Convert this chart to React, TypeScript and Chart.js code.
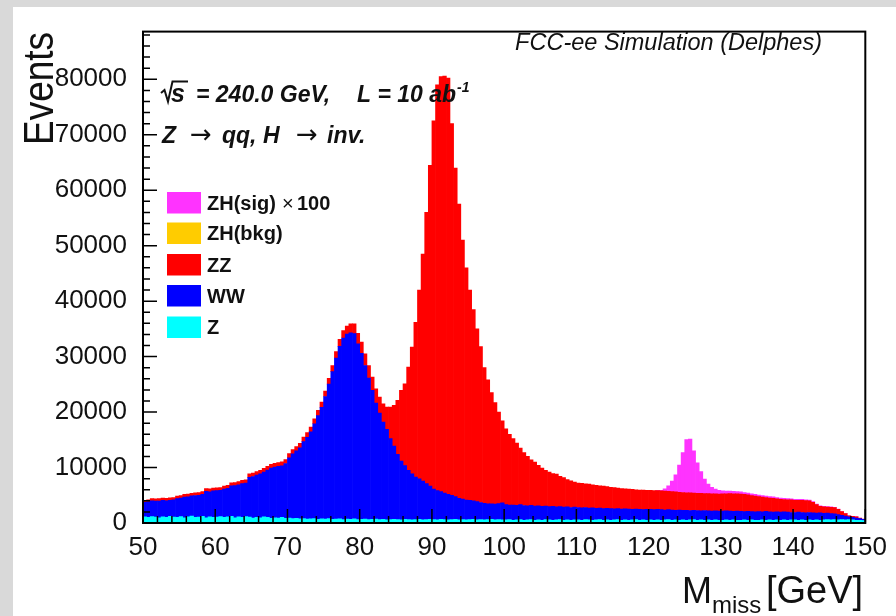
import React, { useEffect, useRef } from "react";
import { Chart, registerables } from "chart.js";

Chart.register(...registerables);

// ---- axis definition ----
const X_MIN = 50;
const X_MAX = 150;
const BIN_WIDTH = 0.5;
const Y_MIN = 0;
const Y_MAX = 88600;
const X_TICKS = [50, 60, 70, 80, 90, 100, 110, 120, 130, 140, 150];
const Y_TICKS = [0, 10000, 20000, 30000, 40000, 50000, 60000, 70000, 80000];
const X_MAJOR_STEP = 10;
const X_MINOR_STEP = 2;
const Y_MAJOR_STEP = 10000;
const Y_MINOR_STEP = 2000;

// ---- series (0.5 GeV bins from 50 to 150 GeV) ----
const Z_BOSON = [
  1100, 1000, 1150, 1050, 950, 1100, 1000, 1200, 1050, 1000, 1150, 950, 1100, 1250, 1000, 1050, 1200, 950, 1100, 1000,
  1050, 1150, 1000, 1100, 1200, 950, 1100, 1000, 1150, 1050, 900, 1000, 950, 1100, 1000, 850, 950, 900, 1000, 850,
  900, 800, 850, 750, 800, 700, 750, 800, 650, 750, 700, 800, 650, 700, 750, 600, 700, 650, 750, 600,
  650, 700, 600, 650, 700, 600, 650, 550, 600, 650, 600, 550, 650, 600, 550, 600, 650, 550, 600, 650,
  600, 550, 650, 600, 550, 600, 650, 550, 600, 550, 600, 650, 550, 600, 550, 600, 650, 550, 600, 550,
  550, 600, 500, 550, 600, 500, 550, 600, 500, 550, 500, 600, 550, 500, 550, 600, 500, 550, 500, 550,
  550, 500, 600, 550, 500, 550, 600, 500, 550, 500, 550, 600, 500, 550, 500, 550, 600, 500, 550, 500,
  550, 500, 550, 500, 550, 600, 500, 550, 500, 550, 500, 550, 600, 500, 550, 500, 550, 500, 550, 500,
  500, 550, 500, 550, 500, 500, 550, 500, 550, 500, 500, 550, 500, 550, 500, 550, 500, 550, 500, 550,
  550, 500, 550, 500, 550, 500, 550, 500, 550, 600, 550, 600, 550, 600, 550, 600, 550, 500, 500, 450,
];

const WW = [
  2620, 2800, 2830, 2890, 3020, 2980, 3010, 2900, 3120, 3390, 3350, 3730, 3620, 3630, 3960, 3950, 3960, 4740, 4530, 4790,
  4780, 4720, 5110, 5150, 5490, 5790, 5770, 6110, 6050, 7190, 7480, 7620, 7910, 8100, 8540, 9070, 9110, 9300, 9330, 9870,
  10860, 11690, 12170, 12800, 13880, 14750, 15670, 17100, 18720, 20090, 22100, 24250, 26650, 29050, 31100, 32750, 33350, 33650, 33400, 31700,
  29950, 27700, 25550, 23250, 20900, 19200, 17550, 16350, 14600, 13200, 11800, 10600, 9700, 8900, 8300, 7700, 7300, 7000, 6500, 6000,
  5500, 5300, 5000, 4800, 4600, 4400, 4100, 3900, 3700, 3600, 3500, 3350, 3300, 3100, 3000, 2850, 2800, 2850, 2900, 3100,
  2750, 2650, 2750, 2650, 2700, 2650, 2550, 2600, 2550, 2550, 2500, 2450, 2400, 2500, 2350, 2350, 2350, 2350, 2300, 2300,
  2250, 2250, 2200, 2150, 2250, 2100, 2100, 2100, 2100, 2100, 2000, 2000, 2000, 2000, 2000, 1900, 1900, 1950, 1850, 1950,
  1900, 1900, 1900, 1900, 1800, 1800, 1850, 1750, 1850, 1750, 1800, 1700, 1700, 1750, 1650, 1750, 1650, 1650, 1650, 1650,
  1650, 1650, 1650, 1550, 1650, 1600, 1500, 1600, 1500, 1500, 1550, 1450, 1600, 1450, 1450, 1450, 1450, 1450, 1450, 1350,
  1350, 1450, 1350, 1350, 1350, 1350, 1250, 1350, 1200, 1200, 1150, 1050, 950, 800, 700, 500, 450, 400, 300, 200,
];

const ZZ = [
  380, 400, 420, 410, 430, 420, 440, 450, 430, 460, 450, 470, 480, 470, 490, 500, 490, 510, 520, 510,
  520, 530, 540, 550, 560, 560, 580, 590, 600, 610, 620, 630, 640, 650, 660, 680, 690, 700, 720, 730,
  740, 760, 780, 800, 820, 850, 880, 900, 930, 960, 1000, 1050, 1100, 1150, 1250, 1350, 1450, 1600, 1750, 1900,
  2000, 2100, 2250, 2400, 2600, 2900, 3300, 4000, 5700, 7350, 9700, 12750, 14750, 18600, 22850, 27900, 34050, 40950, 48900, 57850,
  66400, 73150, 74850, 75200, 75050, 67000, 59250, 53050, 46700, 41850, 37900, 34500, 31150, 28100, 24450, 22350, 20050, 18300, 16500, 14750,
  13700, 12750, 11950, 11200, 10200, 9550, 8900, 8200, 7950, 7300, 6900, 6450, 6250, 5900, 5900, 5450, 5350, 4950, 4800, 4550,
  4400, 4400, 4250, 4300, 4150, 4150, 4000, 4050, 3900, 3850, 3850, 3700, 3700, 3600, 3600, 3600, 3500, 3500, 3550, 3450,
  3450, 3450, 3400, 3400, 3400, 3300, 3300, 3300, 3200, 3200, 3150, 3200, 3100, 3100, 3150, 3050, 3100, 3100, 3050, 3050,
  3100, 3050, 3150, 3180, 3100, 3120, 3100, 2970, 2880, 2850, 2710, 2670, 2490, 2500, 2510, 2370, 2330, 2240, 2250, 2260,
  2180, 2140, 2200, 2200, 2100, 1870, 1520, 1160, 1170, 1070, 1140, 1120, 960, 670, 470, 180, 190, 230, 100, 70,
];

const ZH_BKG = [
  0, 0, 0, 0, 0, 0, 0, 0, 0, 0, 0, 0, 0, 0, 0, 0, 0, 0, 0, 0,
  0, 0, 0, 0, 0, 0, 0, 0, 0, 0, 0, 0, 0, 0, 0, 0, 0, 0, 0, 0,
  0, 0, 0, 0, 0, 0, 0, 0, 0, 0, 0, 0, 0, 0, 0, 0, 0, 0, 0, 0,
  0, 0, 0, 0, 0, 0, 0, 0, 0, 0, 0, 0, 0, 0, 0, 0, 0, 0, 0, 0,
  0, 0, 0, 0, 0, 0, 0, 0, 0, 0, 0, 0, 0, 0, 0, 0, 0, 0, 0, 0,
  0, 0, 0, 0, 0, 0, 0, 0, 0, 0, 0, 0, 0, 0, 0, 0, 0, 0, 0, 0,
  0, 0, 0, 0, 0, 0, 0, 0, 0, 0, 0, 0, 0, 0, 0, 0, 0, 0, 0, 0,
  0, 0, 0, 0, 0, 0, 0, 0, 0, 0, 0, 0, 0, 0, 0, 0, 0, 0, 0, 0,
  0, 0, 0, 0, 0, 0, 0, 0, 0, 0, 0, 0, 0, 0, 0, 0, 0, 0, 0, 0,
  0, 0, 0, 0, 0, 0, 0, 0, 0, 0, 0, 0, 0, 0, 0, 0, 0, 0, 0, 0,
];

const ZH_SIG_X100 = [
  0, 0, 0, 0, 0, 0, 0, 0, 0, 0, 0, 0, 0, 0, 0, 0, 0, 0, 0, 0,
  0, 0, 0, 0, 0, 0, 0, 0, 0, 0, 0, 0, 0, 0, 0, 0, 0, 0, 0, 0,
  0, 0, 0, 0, 0, 0, 0, 0, 0, 0, 0, 0, 0, 0, 0, 0, 0, 0, 0, 0,
  0, 0, 0, 0, 0, 0, 0, 0, 0, 0, 0, 0, 0, 0, 0, 0, 0, 0, 0, 0,
  0, 0, 0, 0, 0, 0, 0, 0, 0, 0, 0, 0, 0, 0, 0, 0, 0, 0, 0, 0,
  0, 0, 0, 0, 0, 0, 0, 0, 0, 0, 0, 0, 0, 0, 0, 0, 0, 0, 0, 0,
  0, 0, 0, 0, 0, 0, 0, 0, 0, 0, 0, 0, 0, 0, 0, 0, 0, 0, 0, 0,
  0, 0, 50, 100, 400, 1000, 1900, 3100, 4900, 7200, 9600, 9700, 7600, 5500, 3900, 2600, 1700, 1200, 850, 700,
  550, 500, 450, 420, 400, 380, 350, 330, 320, 300, 290, 280, 260, 250, 240, 230, 220, 210, 200, 190,
  180, 170, 160, 150, 140, 120, 100, 90, 80, 70, 60, 50, 40, 30, 20, 20, 10, 10, 0, 0,
];

// stacking order bottom -> top
const SERIES_VALUES = [Z_BOSON, WW, ZZ, ZH_BKG, ZH_SIG_X100];
const SERIES_LABELS = ["Z", "WW", "ZZ", "ZH(bkg)", "ZH(sig)"];
const SERIES_COLORS = ["#00ffff", "#0000ff", "#ff0000", "#ffcc00", "#ff33ff"];
// legend order top -> bottom (index into series) and text
const LEGEND_ORDER = [4, 3, 2, 1, 0];
const LEGEND_TEXT = ["ZH(sig)|× 100", "ZH(bkg)", "ZZ", "WW", "Z"];

const SANS = "'Liberation Sans', Arial, Helvetica, sans-serif";

const decorPlugin = {
  id: "rootDecor",
  beforeDraw(chart: any) {
    const ctx = chart.ctx;
    ctx.save();
    ctx.fillStyle = "#d9d9d9";
    ctx.fillRect(0, 0, chart.width, chart.height);
    ctx.fillStyle = "#ffffff";
    ctx.fillRect(13, 7, chart.width - 13, chart.height - 7);
    ctx.restore();
  },
  afterDraw(chart: any) {
    const ctx = chart.ctx;
    const xs = chart.scales.x;
    const ys = chart.scales.y;
    const { left, right, top, bottom } = chart.chartArea;
    ctx.save();
    // ticks (inside the frame)
    ctx.strokeStyle = "#000";
    ctx.lineWidth = 1.5;
    ctx.beginPath();
    for (let v = X_MIN; v <= X_MAX + 1e-9; v += X_MINOR_STEP) {
      const px = xs.getPixelForValue(v);
      const major = Math.abs((v - X_MIN) % X_MAJOR_STEP) < 1e-9;
      ctx.moveTo(px, bottom);
      ctx.lineTo(px, bottom - (major ? 14 : 7));
    }
    for (let v = Y_MIN; v <= Y_MAX; v += Y_MINOR_STEP) {
      const py = ys.getPixelForValue(v);
      const major = v % Y_MAJOR_STEP === 0;
      ctx.moveTo(left, py);
      ctx.lineTo(left + (major ? 14 : 7), py);
    }
    ctx.stroke();
    // frame
    ctx.lineWidth = 2;
    ctx.strokeRect(left, top, right - left, bottom - top);

    ctx.fillStyle = "#111";
    ctx.textBaseline = "alphabetic";
    ctx.textAlign = "left";

    // Y title
    ctx.save();
    ctx.translate(53, 145);
    ctx.rotate(-Math.PI / 2);
    ctx.scale(1, 1.15);
    ctx.font = `37px ${SANS}`;
    ctx.fillText("Events", 0, 0);
    ctx.restore();

    // X title
    ctx.font = `36px ${SANS}`;
    ctx.fillText("M", 682, 603);
    ctx.font = `24px ${SANS}`;
    ctx.fillText("miss", 712, 613);
    ctx.font = `38px ${SANS}`;
    ctx.fillText("[GeV]", 766, 603);

    // header
    ctx.font = `italic 23.5px ${SANS}`;
    ctx.textAlign = "right";
    ctx.fillText("FCC-ee Simulation (Delphes)", 822, 50);
    ctx.textAlign = "left";

    // sqrt(s) line
    ctx.lineWidth = 2;
    ctx.strokeStyle = "#111";
    ctx.beginPath();
    ctx.moveTo(161, 93);
    ctx.lineTo(164.5, 90);
    ctx.lineTo(168, 101.5);
    ctx.lineTo(172.5, 81.5);
    ctx.lineTo(188, 81.5);
    ctx.stroke();
    ctx.font = `italic bold 25px ${SANS}`;
    ctx.fillText("s", 171, 101.5);
    ctx.font = `italic bold 23px ${SANS}`;
    ctx.fillText("= 240.0 GeV,", 196, 101.5);
    ctx.fillText("L = 10 ab", 357, 101.5);
    ctx.font = `italic bold 14px ${SANS}`;
    ctx.fillText("-1", 457, 92);

    // process line
    ctx.font = `italic bold 23px ${SANS}`;
    ctx.fillText("Z", 162, 142.5);
    ctx.fillText("qq, H", 222, 142.5);
    ctx.fillText("inv.", 327, 142.5);
    ctx.font = `26px 'DejaVu Sans', ${SANS}`;
    ctx.fillText("→", 190, 142.5);
    ctx.fillText("→", 296, 142.5);

    // legend
    const rowTop = [192, 222.5, 254, 285, 316.5];
    const boxH = 21.5;
    LEGEND_ORDER.forEach((si, r) => {
      const ds = chart.data.datasets[si];
      ctx.fillStyle = ds.backgroundColor;
      ctx.fillRect(167, rowTop[r], 34, boxH);
      ctx.fillStyle = "#111";
      const base = rowTop[r] + boxH / 2 + 7;
      const parts = LEGEND_TEXT[r].split("|");
      ctx.font = `bold 20px ${SANS}`;
      ctx.fillText(parts[0], 207, base);
      if (parts[1]) {
        const [times, num] = parts[1].split(" ");
        ctx.font = `20px ${SANS}`;
        ctx.fillText(times, 282, base);
        ctx.font = `bold 20px ${SANS}`;
        ctx.fillText(num, 297, base);
      }
    });
    ctx.restore();
  },
};

export default function App() {
  const canvasRef = useRef<HTMLCanvasElement | null>(null);

  useEffect(() => {
    const canvas = canvasRef.current;
    if (!canvas) return;
    const datasets = SERIES_VALUES.map((vals, k) => ({
      label: SERIES_LABELS[k],
      data: vals.map((v, i) => ({ x: X_MIN + BIN_WIDTH * (i + 0.5), y: v === 0 ? null : v })),
      backgroundColor: SERIES_COLORS[k],
      borderWidth: 0,
      barPercentage: 1,
      categoryPercentage: 1,
    }));
    const tickFont = { family: SANS, size: 26 };
    const chart = new Chart(canvas, {
      type: "bar",
      data: { datasets } as any,
      options: {
        animation: false,
        responsive: false,
        maintainAspectRatio: false,
        devicePixelRatio: 1,
        events: [],
        layout: { padding: { left: 0, top: 30, right: 28, bottom: 0 } },
        plugins: { legend: { display: false }, tooltip: { enabled: false }, title: { display: false } },
        scales: {
          x: {
            type: "linear",
            min: X_MIN,
            max: X_MAX,
            offset: false,
            stacked: true,
            grid: { display: false, drawTicks: false, offset: false },
            border: { display: false },
            afterBuildTicks: (s: any) => {
              s.ticks = X_TICKS.map((v) => ({ value: v }));
            },
            ticks: {
              padding: 9,
              color: "#111",
              font: tickFont,
              maxRotation: 0,
              autoSkip: false,
              callback: (v: any) => String(v),
            },
            afterFit: (s: any) => {
              s.height = 93;
            },
          },
          y: {
            type: "linear",
            min: Y_MIN,
            max: Y_MAX,
            stacked: true,
            grid: { display: false, drawTicks: false },
            border: { display: false },
            afterBuildTicks: (s: any) => {
              s.ticks = Y_TICKS.map((v) => ({ value: v }));
            },
            ticks: {
              padding: 16,
              autoSkip: false,
              color: "#111",
              font: tickFont,
              callback: (v: any) => String(v),
            },
            afterFit: (s: any) => {
              s.width = 143;
            },
          },
        },
      } as any,
      plugins: [decorPlugin],
    });
    return () => chart.destroy();
  }, []);

  return (
    <canvas
      ref={canvasRef}
      width={896}
      height={616}
      style={{ position: "fixed", left: 0, top: 0, width: 896, height: 616, display: "block" }}
    />
  );
}
